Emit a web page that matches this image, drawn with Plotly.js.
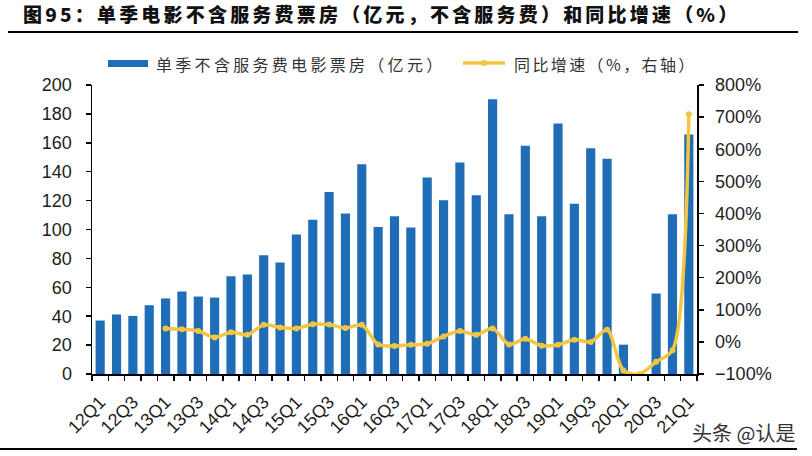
<!DOCTYPE html>
<html>
<head>
<meta charset="utf-8">
<script src="https://cdn.plot.ly/plotly-3.0.1.min.js"></script>
<style>
  html, body { margin: 0; padding: 0; background: #ffffff; }
  #chart { width: 812px; height: 456px; }
</style>
</head>
<body>
<div id="chart"></div>
<script>
// Quarterly box office (excluding service fees, 100M CNY) and YoY growth (%)
const quarters = [
  '12Q1','12Q2','12Q3','12Q4','13Q1','13Q2','13Q3','13Q4',
  '14Q1','14Q2','14Q3','14Q4','15Q1','15Q2','15Q3','15Q4',
  '16Q1','16Q2','16Q3','16Q4','17Q1','17Q2','17Q3','17Q4',
  '18Q1','18Q2','18Q3','18Q4','19Q1','19Q2','19Q3','19Q4',
  '20Q1','20Q2','20Q3','20Q4','21Q1'
];
const boxOffice = [
  37.0, 41.2, 40.2, 47.6, 52.3, 57.1, 53.6, 52.9,
  67.7, 68.9, 82.1, 77.2, 96.6, 106.8, 126.0, 111.0,
  145.2, 101.7, 109.1, 101.3, 136.0, 120.2, 146.4, 123.7,
  190.1, 110.5, 157.9, 109.1, 173.4, 117.9, 156.3, 148.9,
  20.3, 0, 55.7, 110.5, 165.8
];
const yoyGrowth = [
  null, null, null, null, 42, 39, 34, 14,
  30, 22, 53, 45, 42, 55, 54, 43,
  53, -8, -13, -9, -6, 17, 34, 22,
  42, -8, 10, -12, -9, 7, 0, 38,
  -89, -100, -62, -26, 709
];
const barName = '单季不含服务费电影票房（亿元）';
const lineName = '同比增速（%，右轴）';
const titleText = '图95：单季电影不含服务费票房（亿元，不含服务费）和同比增速（%）';
const watermark = '头条 @认是';

// labels on every other quarter
const tickText = quarters.map((q, i) => (i % 2 === 0 ? q : ''));

const W = 812, H = 456;
const L = 92, R = 697, T = 85, B = 374;
const px = x => (x - L) / (R - L);
const py = y => (B - y) / (B - T);

const BLUE = '#1F6DB6';
const GOLD = '#F2C641';
const tickFont = { family: 'Liberation Sans, Arial, sans-serif', size: 18, color: '#1e1e1e' };
const cjk = 'Noto Sans CJK SC, sans-serif';

const traces = [
  {
    type: 'bar', x: quarters, y: boxOffice, name: barName,
    marker: { color: BLUE }, hoverinfo: 'x+y'
  },
  {
    type: 'scatter', mode: 'lines+markers', x: quarters, y: yoyGrowth, name: lineName,
    yaxis: 'y2', connectgaps: false,
    line: { color: GOLD, width: 3.5, shape: 'spline', smoothing: 0.8 },
    marker: { color: GOLD, size: 6 }
  }
];

const layout = {
  width: W, height: H,
  paper_bgcolor: '#ffffff', plot_bgcolor: '#ffffff',
  margin: { l: L, r: W - R, t: T, b: H - B, autoexpand: false },
  showlegend: false,
  bargap: 0.44,
  title: {
    text: titleText,
    x: 23 / W, xanchor: 'left', xref: 'container',
    y: 1 - 15 / H, yanchor: 'middle', yref: 'container',
    font: { family: cjk, size: 19, weight: 900, color: '#111111' }
  },
  xaxis: {
    type: 'category', range: [-0.5, quarters.length - 0.5],
    tickmode: 'array', tickvals: quarters, ticktext: tickText,
    tickson: 'boundaries', ticks: 'outside', ticklen: 5, tickwidth: 1.5, tickcolor: '#000',
    tickangle: -45, tickfont: tickFont, ticklabelstandoff: 9,
    showline: true, linecolor: '#000', linewidth: 1.5,
    showgrid: false, zeroline: false, fixedrange: true
  },
  yaxis: {
    range: [0, 200], dtick: 20, tick0: 0,
    ticks: 'outside', ticklen: 5, tickwidth: 1.5, tickcolor: '#000',
    tickfont: tickFont, ticklabelstandoff: 10,
    showline: true, linecolor: '#000', linewidth: 1.5,
    showgrid: false, zeroline: false, fixedrange: true
  },
  yaxis2: {
    range: [-100, 800], dtick: 100, tick0: 0, ticksuffix: '%',
    overlaying: 'y', side: 'right',
    ticks: 'outside', ticklen: 5, tickwidth: 1.5, tickcolor: '#000',
    tickfont: tickFont, ticklabelstandoff: 8,
    showline: true, linecolor: '#000', linewidth: 1.5,
    showgrid: false, zeroline: false, fixedrange: true
  },
  shapes: [
    // rule under the title
    { type: 'line', xref: 'paper', yref: 'paper', x0: px(8), x1: px(798), y0: py(32), y1: py(32),
      line: { color: '#000', width: 2.2 } },
    // rule at the bottom
    { type: 'line', xref: 'paper', yref: 'paper', x0: px(0), x1: px(797), y0: py(449), y1: py(449),
      line: { color: '#000', width: 2.2 } },
    // legend swatch: bars
    { type: 'rect', xref: 'paper', yref: 'paper', x0: px(108), x1: px(148), y0: py(67), y1: py(60),
      fillcolor: BLUE, line: { width: 0 } },
    // legend swatch: growth line
    { type: 'line', xref: 'paper', yref: 'paper', x0: px(463), x1: px(505), y0: py(63), y1: py(63),
      line: { color: GOLD, width: 3.5 } },
    { type: 'circle', xref: 'paper', yref: 'paper', x0: px(481), x1: px(487), y0: py(66), y1: py(60),
      fillcolor: GOLD, line: { width: 0 } }
  ],
  annotations: [
    { xref: 'paper', yref: 'paper', x: px(154), y: py(64), xanchor: 'left', yanchor: 'middle', align: 'left',
      text: barName, showarrow: false, font: { family: cjk, size: 16, color: '#333333' } },
    { xref: 'paper', yref: 'paper', x: px(512), y: py(64), xanchor: 'left', yanchor: 'middle', align: 'left',
      text: lineName, showarrow: false, font: { family: cjk, size: 16, color: '#333333' } },
    { xref: 'paper', yref: 'paper', x: px(690), y: py(432), xanchor: 'left', yanchor: 'middle', align: 'left',
      text: watermark, showarrow: false, font: { family: cjk, size: 20, color: '#333333' } }
  ]
};

Plotly.newPlot('chart', traces, layout, { staticPlot: true, displayModeBar: false }).then(gd => {
  // widen the CJK captions' letter spacing
  const title = gd.querySelector('.gtitle');
  if (title) title.style.letterSpacing = '3.2px';
  const notes = gd.querySelectorAll('.annotation-text');
  if (notes[0]) notes[0].style.letterSpacing = '3.3px';
  if (notes[1]) notes[1].style.letterSpacing = '2.4px';
});
</script>
</body>
</html>
